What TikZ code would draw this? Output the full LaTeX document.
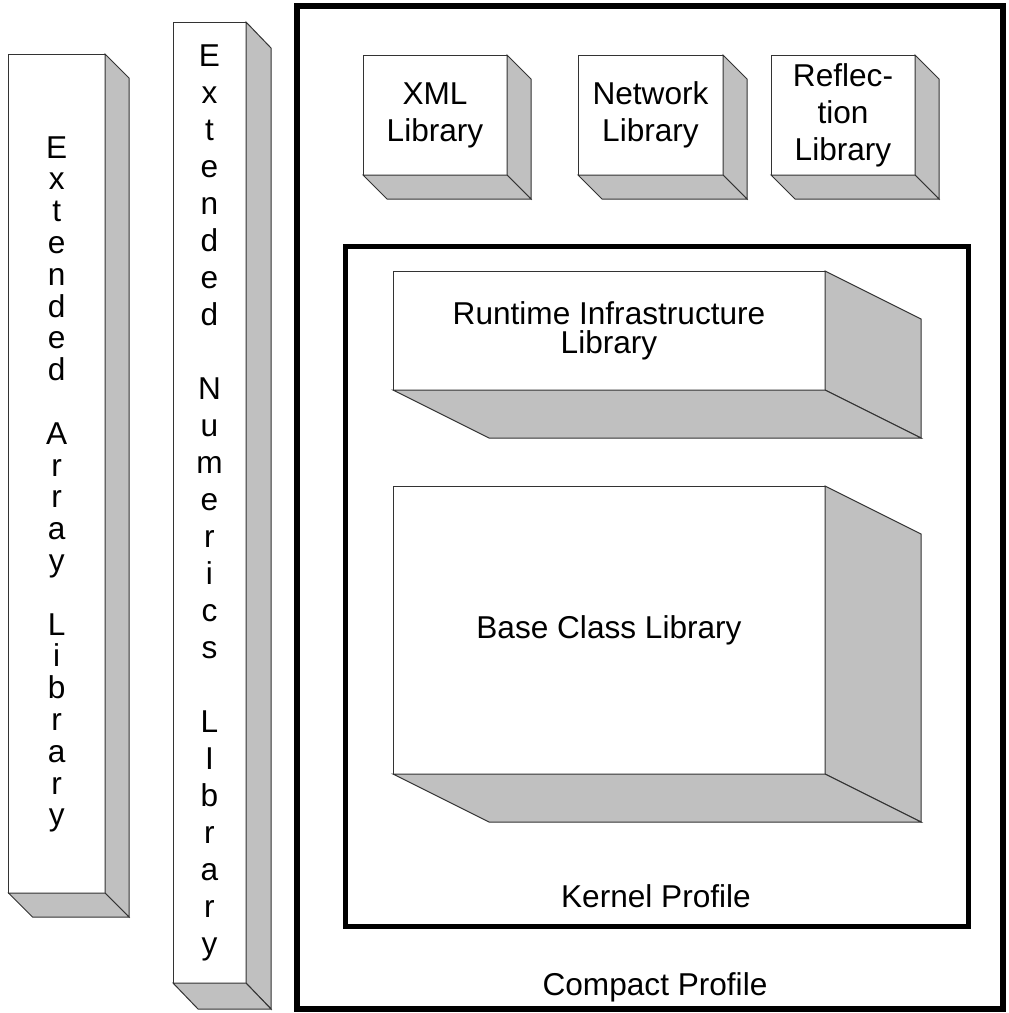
\documentclass[tikz,border=0pt]{standalone}
\usepackage{fontspec}
\setmainfont{Liberation Sans}
\usetikzlibrary{calc}
\definecolor{facegray}{HTML}{C0C0C0}
\newcommand{\libfont}[1]{\fontsize{15.8pt}{#1}\selectfont}
\tikzset{
  libface/.style={draw=black!80, line width=0.5pt, fill=white, outer sep=0pt, inner sep=0pt, align=center},
  depthface/.style={draw=black!80, line width=0.5pt, fill=facegray, line join=miter},
  profile/.style={draw, outer sep=0pt, inner sep=0pt}
}

\begin{document}
\begin{tikzpicture}[x=0.5pt, y=-0.5pt, font=\libfont{18.5pt}]
  \useasboundingbox (0,0) rectangle (1008,1013);

  % profiles
  \node[profile, line width=2.75pt, minimum width=353pt, minimum height=501.5pt] (compact) at (650,507.5) {};
  \node[profile, line width=2.5pt, minimum width=311.5pt, minimum height=340pt] (kernel) at (656.5,586) {};
  \node[anchor=base] (compactlbl) at (655,995) {Compact Profile};
  \node[anchor=base] (kernellbl) at (656,907) {Kernel Profile};

  % libraries outside the profiles
  \node[libface, minimum width=48.25pt, minimum height=419.5pt] (eal) at (56.75,473.5) {};
  \node[anchor=north, inner sep=0pt, align=center, font=\libfont{15.9pt}] (ealtxt) at ($(eal.north)+(0,82)$)
    {E\\x\\t\\e\\n\\d\\e\\d\\~\\A\\r\\r\\a\\y\\~\\L\\i\\b\\r\\a\\r\\y};
  \node[libface, minimum width=36.5pt, minimum height=480.5pt, font=\libfont{18.5pt}] (enl) at (209.5,502.5)
    {E\\x\\t\\e\\n\\d\\e\\d\\~\\N\\u\\m\\e\\r\\i\\c\\s\\~\\L\\I\\b\\r\\a\\r\\y};

  % compact profile libraries
  \node[libface, minimum width=72pt, minimum height=60pt] (xml) at (435,115) {XML\\Library};
  \node[libface, minimum width=72.5pt, minimum height=60pt] (net) at (650.5,115) {Network\\Library};
  \node[libface, minimum width=72pt, minimum height=60pt] (refl) at (843,115) {Reflec-\\tion\\Library};

  % kernel profile libraries
  \node[libface, minimum width=216pt, minimum height=59.5pt, font=\libfont{14.5pt}] (rtl) at (609,330.5)
    {Runtime Infrastructure\\Library};
  \node[libface, minimum width=216pt, minimum height=144pt] (bcl) at (609,630) {Base Class Library};

  % side and bottom faces
  \foreach \n/\dx/\dy in {eal/24/24, enl/25/26, xml/24/24, net/24/24, refl/24/24, rtl/96/48, bcl/96/48} {
    \draw[depthface] (\n.north east) -- ++(\dx,\dy) -- ($(\n.south east)+(\dx,\dy)$) -- (\n.south east) -- cycle;
    \draw[depthface] (\n.south west) -- (\n.south east) -- ++(\dx,\dy) -- ($(\n.south west)+(\dx,\dy)$) -- cycle;
  }
\end{tikzpicture}
\end{document}
